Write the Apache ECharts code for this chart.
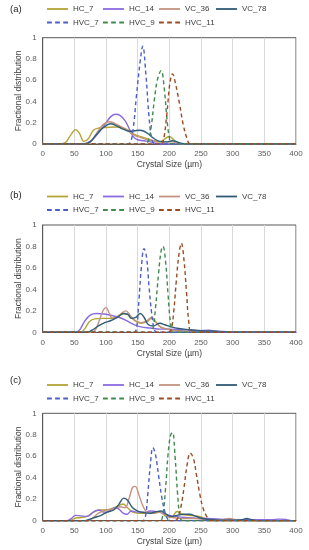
<!DOCTYPE html>
<html>
<head>
<meta charset="utf-8">
<script src="https://cdn.jsdelivr.net/npm/echarts@6/dist/echarts.min.js"></script>
<style>html,body{margin:0;padding:0;background:#fff}#c{width:309px;height:550px}</style>
</head>
<body>
<div id="c"></div>
<script>
// ---- series definitions ----
const seriesNames = ['HC_7','HC_14','VC_36','VC_78','HVC_7','HVC_9','HVC_11'];
const seriesColors = ['#b3a535','#8a6be0','#c4937f','#2f5b78','#4c5ec8','#3f8a4f','#9a4b22'];
const seriesDashed = [false,false,false,false,true,true,true];
const panelLabels = ['(a)','(b)','(c)'];
const xTicks = {min:0, max:400, interval:50};
const yTicks = {min:0, max:1, interval:0.2};

// ---- panel (a) ----
const a_HC_7 = [[0,0],[25,0],[35,0.01],[45,0.09],[52,0.135],[58,0.1],[65,0.025],[72,0.05],[80,0.13],[88,0.15],[100,0.155],[115,0.16],[125,0.155],[135,0.13],[145,0.09],[155,0.07],[165,0.05],[175,0.03],[185,0.02],[193,0.05],[200,0.07],[207,0.04],[215,0.005],[225,0],[400,0]];
const a_HC_14 = [[0,0],[62,0],[70,0.01],[80,0.05],[90,0.12],[100,0.2],[108,0.26],[115,0.28],[122,0.27],[130,0.22],[137,0.14],[143,0.07],[150,0.04],[160,0.03],[170,0.02],[180,0.005],[190,0],[400,0]];
const a_VC_36 = [[0,0],[65,0],[75,0.02],[85,0.1],[95,0.18],[105,0.21],[115,0.19],[125,0.16],[135,0.12],[145,0.08],[155,0.06],[165,0.04],[175,0.03],[185,0.02],[195,0.02],[205,0.02],[215,0.005],[225,0],[400,0]];
const a_VC_78 = [[0,0],[65,0],[75,0.02],[85,0.09],[95,0.15],[107,0.19],[117,0.17],[127,0.14],[137,0.12],[145,0.125],[153,0.13],[160,0.12],[168,0.09],[176,0.05],[185,0.025],[195,0.02],[205,0.03],[212,0.02],[220,0.005],[230,0],[400,0]];
const a_HVC_7 = [[0,0],[132,0],[138,0.01],[143,0.15],[148,0.45],[154,0.78],[158,0.92],[163,0.65],[168,0.25],[173,0.03],[178,0],[400,0]];
const a_HVC_9 = [[0,0],[160,0],[166,0.02],[171,0.15],[176,0.4],[181,0.6],[187,0.69],[192,0.52],[196,0.25],[200,0.06],[204,0],[400,0]];
const a_HVC_11 = [[0,0],[185,0],[190,0.02],[196,0.28],[201,0.58],[205,0.66],[210,0.56],[216,0.38],[222,0.18],[228,0.05],[233,0],[400,0]];

// ---- panel (b) ----
const b_HC_7 = [[0,0],[60,0],[66,0.03],[74,0.1],[82,0.125],[95,0.13],[108,0.13],[118,0.15],[128,0.175],[136,0.16],[145,0.11],[155,0.085],[165,0.1],[172,0.13],[178,0.1],[186,0.05],[196,0.03],[210,0.02],[225,0.01],[240,0],[400,0]];
const b_HC_14 = [[0,0],[52,0],[58,0.02],[66,0.1],[75,0.16],[85,0.175],[97,0.17],[110,0.155],[120,0.14],[132,0.11],[145,0.07],[155,0.05],[170,0.04],[185,0.03],[200,0.03],[215,0.025],[230,0.02],[245,0.015],[262,0.02],[275,0.01],[290,0.005],[300,0],[400,0]];
const b_VC_36 = [[0,0],[78,0],[84,0.03],[90,0.12],[96,0.21],[100,0.23],[105,0.18],[110,0.13],[118,0.14],[125,0.18],[131,0.2],[138,0.16],[146,0.11],[156,0.09],[165,0.11],[172,0.14],[178,0.1],[186,0.05],[196,0.03],[210,0.015],[225,0],[400,0]];
const b_VC_78 = [[0,0],[70,0],[78,0.02],[88,0.06],[98,0.09],[108,0.11],[118,0.14],[128,0.175],[134,0.17],[140,0.13],[147,0.14],[154,0.175],[160,0.14],[167,0.07],[175,0.06],[185,0.085],[193,0.07],[203,0.05],[215,0.035],[230,0.025],[250,0.015],[270,0.01],[290,0.005],[300,0],[400,0]];
const b_HVC_7 = [[0,0],[144,0],[148,0.03],[152,0.3],[156,0.62],[160,0.78],[164,0.7],[168,0.42],[172,0.18],[176,0.03],[180,0],[400,0]];
const b_HVC_9 = [[0,0],[170,0],[174,0.03],[178,0.22],[183,0.55],[187,0.76],[190,0.8],[194,0.66],[198,0.35],[202,0.08],[206,0],[400,0]];
const b_HVC_11 = [[0,0],[198,0],[203,0.03],[207,0.2],[211,0.48],[215,0.72],[219,0.83],[223,0.68],[227,0.38],[231,0.08],[235,0],[400,0]];

// ---- panel (c) ----
const c_HC_7 = [[0,0],[42,0],[50,0.02],[60,0.03],[70,0.04],[80,0.08],[90,0.1],[102,0.1],[112,0.12],[120,0.14],[127,0.155],[134,0.12],[142,0.08],[152,0.07],[165,0.07],[175,0.07],[185,0.08],[195,0.04],[203,0.03],[212,0.085],[220,0.06],[230,0.05],[240,0.045],[250,0.035],[258,0.015],[265,0],[400,0]];
const c_HC_14 = [[0,0],[38,0],[45,0.02],[52,0.05],[60,0.045],[70,0.04],[80,0.08],[88,0.1],[98,0.08],[106,0.09],[114,0.12],[120,0.11],[127,0.07],[133,0.06],[140,0.09],[150,0.08],[160,0.08],[170,0.09],[180,0.085],[190,0.07],[200,0.05],[210,0.04],[225,0.03],[240,0.025],[260,0.02],[280,0.015],[300,0.01],[320,0.01],[340,0.01],[360,0.01],[375,0.015],[385,0.01],[395,0],[400,0]];
const c_VC_36 = [[0,0],[70,0],[78,0.02],[88,0.07],[100,0.1],[112,0.11],[122,0.13],[130,0.12],[136,0.2],[142,0.31],[146,0.32],[152,0.24],[158,0.14],[165,0.08],[175,0.07],[185,0.08],[195,0.05],[205,0.03],[220,0.02],[240,0.02],[260,0.01],[280,0.01],[295,0.02],[305,0.01],[320,0],[400,0]];
const c_VC_78 = [[0,0],[65,0],[72,0.01],[82,0.03],[92,0.05],[102,0.08],[112,0.1],[120,0.15],[128,0.21],[134,0.19],[142,0.12],[150,0.09],[160,0.075],[170,0.07],[180,0.085],[187,0.09],[195,0.06],[203,0.04],[212,0.05],[222,0.06],[232,0.06],[242,0.04],[252,0.02],[265,0.01],[280,0.005],[300,0.005],[315,0.01],[322,0.02],[330,0.01],[340,0],[400,0]];
const c_HVC_7 = [[0,0],[158,0],[162,0.03],[166,0.25],[170,0.52],[174,0.68],[178,0.62],[183,0.42],[188,0.22],[193,0.08],[198,0.01],[203,0],[400,0]];
const c_HVC_9 = [[0,0],[185,0],[189,0.03],[194,0.3],[198,0.62],[202,0.8],[205,0.82],[209,0.6],[213,0.25],[217,0.03],[221,0],[400,0]];
const c_HVC_11 = [[0,0],[208,0],[213,0.02],[218,0.12],[223,0.3],[228,0.52],[233,0.63],[238,0.58],[243,0.42],[248,0.25],[253,0.12],[258,0.05],[263,0.01],[268,0],[400,0]];

const panelData = [
  [a_HC_7,a_HC_14,a_VC_36,a_VC_78,a_HVC_7,a_HVC_9,a_HVC_11],
  [b_HC_7,b_HC_14,b_VC_36,b_VC_78,b_HVC_7,b_HVC_9,b_HVC_11],
  [c_HC_7,c_HC_14,c_VC_36,c_VC_78,c_HVC_7,c_HVC_9,c_HVC_11]
];

// ---- layout ----
const gridTops = [37.7, 225, 413.3];
const gridHeights = [106.3, 107.3, 107.4];
const legendTops = [4, 191.5, 380];
const legendCols = [[0,4],[1,5],[2,6],[3]];
const legendLefts = [47, 103, 159, 216];
const labelTops = [4, 190, 375];

const solidIcon = 'path://M0,0h22v1h-22z';
const dashIcon = 'path://M0,0h5v1h-5zM8.5,0h5v1h-5zM17,0h5v1h-5z';

const FONT = '"Liberation Sans", Arial, sans-serif';
const option = {
  animation: false,
  textStyle: {fontFamily: FONT},
  title: [], legend: [], grid: [], xAxis: [], yAxis: [], series: []
};

for (let p = 0; p < 3; p++) {
  option.title.push({text: panelLabels[p], left: 10, top: labelTops[p], padding: 0,
    textStyle: {fontSize: 9.5, fontWeight: 'normal', color: '#262626', fontFamily: FONT}});
  legendCols.forEach((col, ci) => {
    option.legend.push({
      data: col.map(i => ({name: seriesNames[i], icon: seriesDashed[i] ? dashIcon : solidIcon,
        itemStyle: {color: seriesColors[i]}})),
      left: legendLefts[ci], top: legendTops[p], orient: 'vertical', padding: 0,
      itemGap: 3.5, itemWidth: 21, itemHeight: 1.8, symbolKeepAspect: false, selectedMode: false,
      textStyle: {fontSize: 8, color: '#404040', lineHeight: 10, fontFamily: FONT}
    });
  });
  option.grid.push({left: 42.7, right: 13, top: gridTops[p], height: gridHeights[p],
    containLabel: false, outerBoundsMode: 'none',
    show: true, borderColor: '#595959', borderWidth: 1, backgroundColor: 'transparent'});
  option.xAxis.push({
    type: 'value', gridIndex: p, min: xTicks.min, max: xTicks.max, interval: xTicks.interval,
    name: 'Crystal Size (µm)', nameLocation: 'middle', nameGap: 16.5, nameMoveOverlap: false,
    nameTextStyle: {fontSize: 8.5, color: '#404040', fontFamily: FONT},
    axisLine: {show: true, lineStyle: {color: '#595959', width: 1}},
    axisTick: {show: false},
    axisLabel: {fontSize: 8, color: '#595959', margin: 6, fontFamily: FONT},
    splitLine: {show: true, lineStyle: {color: '#d9d9d9', width: 1}}
  });
  option.yAxis.push({
    type: 'value', gridIndex: p, min: yTicks.min, max: yTicks.max, interval: yTicks.interval,
    name: 'Fractional distribution', nameLocation: 'middle', nameGap: 19.5, nameMoveOverlap: false,
    nameTextStyle: {fontSize: 8.5, color: '#404040', fontFamily: FONT},
    axisLine: {show: true, lineStyle: {color: '#595959', width: 1}},
    axisTick: {show: false},
    axisLabel: {fontSize: 8, color: '#595959', margin: 6, fontFamily: FONT},
    splitLine: {show: false}
  });
  seriesNames.forEach((n, i) => {
    option.series.push({
      type: 'line', name: n, xAxisIndex: p, yAxisIndex: p,
      data: panelData[p][i], smooth: 0.4, symbol: 'none',
      color: seriesColors[i],
      lineStyle: {color: seriesColors[i], width: 1.4, type: seriesDashed[i] ? [4,3] : 'solid'}
    });
  });
}

const chart = echarts.init(document.getElementById('c'), null, {renderer: 'canvas'});
chart.setOption(option);
</script>
</body>
</html>
